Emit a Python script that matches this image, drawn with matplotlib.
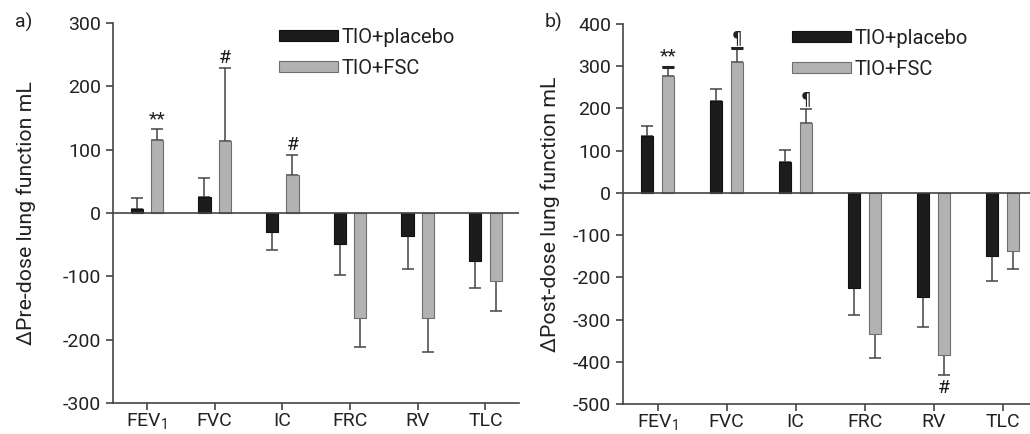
import numpy as np
import matplotlib
matplotlib.use("Agg")
import matplotlib.pyplot as plt

plt.rcParams["font.family"] = ["Roboto", "DejaVu Sans"]
plt.rcParams["axes.unicode_minus"] = False

categories = ["FEV$_{\\mathregular{1}}$", "FVC", "IC", "FRC", "RV", "TLC"]

# panel a: pre-dose change (mL), bar value and one-sided error
pre_placebo = [7, 25, -30, -49, -37, -76]
pre_placebo_err = [16, 30, 29, 49, 52, 42]
pre_fsc = [115, 113, 60, -166, -166, -108]
pre_fsc_err = [17, 116, 32, 46, 53, 46]
pre_marks = ["**", "#", "#", "", "", ""]  # on TIO+FSC bars

# panel b: post-dose change (mL)
post_placebo = [134, 218, 72, -226, -247, -150]
post_placebo_err = [25, 29, 29, 63, 71, 59]
post_fsc = [277, 310, 165, -335, -383, -138]
post_fsc_err = [22, 32, 33, 56, 49, 43]
post_marks = ["**", "\u00b6", "\u00b6", "", "#", ""]

dark = "#1c1c1c"
grey = "#b1b2b4"
axis_col = "#444444"
text_col = "#222222"


def one_sided(vals, err):
    vals = np.array(vals)
    err = np.array(err)
    lower = np.where(vals < 0, err, 0)
    upper = np.where(vals >= 0, err, 0)
    return [lower, upper]


def panel(ax, placebo, placebo_err, fsc, fsc_err, marks, ylim, yticks, ylabel, thick_caps=()):
    x = np.arange(len(categories))
    off = 0.15
    w = 0.18
    ax.bar(x - off, placebo, w, color=dark, edgecolor="#111111", linewidth=0.8,
           label="TIO+placebo", zorder=2)
    ax.bar(x + off, fsc, w, color=grey, edgecolor="#6e6e6e", linewidth=0.8,
           label="TIO+FSC", zorder=2)
    ax.errorbar(x - off, placebo, yerr=one_sided(placebo, placebo_err), fmt="none",
                ecolor=axis_col, elinewidth=1.1, capsize=4.3, capthick=1.1, zorder=1)
    ax.errorbar(x + off, fsc, yerr=one_sided(fsc, fsc_err), fmt="none",
                ecolor=axis_col, elinewidth=1.1, capsize=4.3, capthick=1.1, zorder=1)

    span = ylim[1] - ylim[0]
    for i, m in enumerate(marks):
        if not m:
            continue
        fam = ["DejaVu Sans"] if m == "\u00b6" else ["Roboto", "DejaVu Sans"]
        size = 12 if m == "\u00b6" else 14
        if fsc[i] >= 0:
            y = fsc[i] + fsc_err[i] + span * 0.003
            va = "bottom"
        else:
            y = fsc[i] - fsc_err[i] - span * 0.01
            va = "top"
        ax.text(x[i] + off, y, m, ha="center", va=va, fontsize=size, color=text_col, family=fam)
    for i in thick_caps:
        top = fsc[i] + fsc_err[i]
        ax.hlines(top, x[i] + off - 0.09, x[i] + off + 0.09, color=text_col, linewidth=2.2, zorder=3)

    ax.axhline(0, color=axis_col, linewidth=1.2, zorder=3)
    ax.set_xlim(-0.5, len(categories) - 0.5)
    ax.set_ylim(*ylim)
    ax.set_yticks(yticks)
    ax.set_xticks(x)
    ax.set_xticklabels(categories)
    ax.spines["top"].set_visible(False)
    ax.spines["right"].set_visible(False)
    for s in ("left", "bottom"):
        ax.spines[s].set_color(axis_col)
        ax.spines[s].set_linewidth(1.2)
    ax.tick_params(axis="both", colors=axis_col, labelcolor=text_col, labelsize=14,
                   length=5, width=1.2, direction="out")
    ax.tick_params(axis="y", pad=3.5)
    ax.tick_params(axis="x", pad=1.5)
    ax.set_ylabel(ylabel, fontsize=15.3, color=text_col)
    ax.legend(loc="upper left", bbox_to_anchor=(0.409, 0.988), frameon=False, fontsize=14.5,
              handlelength=2.9, handleheight=0.5, handletextpad=0.2, labelspacing=0.6,
              borderpad=0, borderaxespad=0, labelcolor=text_col)


fig = plt.figure(figsize=(10.3, 4.34), dpi=100)
ax1 = fig.add_axes([0.1097, 0.0714, 0.3945, 0.8756])
ax2 = fig.add_axes([0.6049, 0.0691, 0.402, 0.8756])

panel(ax1, pre_placebo, pre_placebo_err, pre_fsc, pre_fsc_err, pre_marks,
      (-300, 300), [-300, -200, -100, 0, 100, 200, 300], "\u0394Pre-dose lung function mL")
panel(ax2, post_placebo, post_placebo_err, post_fsc, post_fsc_err, post_marks,
      (-500, 400), [-500, -400, -300, -200, -100, 0, 100, 200, 300, 400],
      "\u0394Post-dose lung function mL", thick_caps=(0, 1))

ax1.yaxis.set_label_coords(-0.19, 0.5)
ax2.yaxis.set_label_coords(-0.152, 0.5)

fig.text(0.0146, 0.935, "a)", fontsize=14, color=text_col)
fig.text(0.529, 0.935, "b)", fontsize=14, color=text_col)

fig.savefig("out.png", dpi=100)
